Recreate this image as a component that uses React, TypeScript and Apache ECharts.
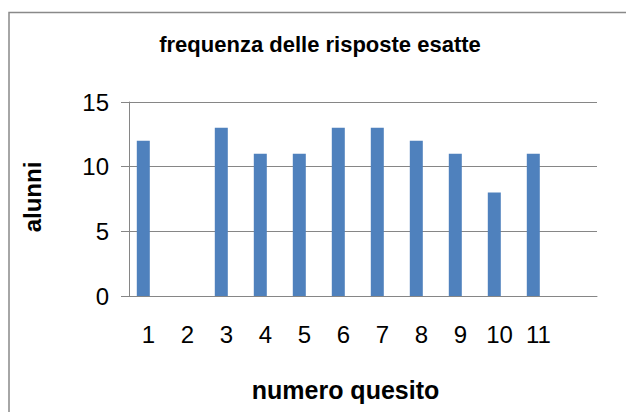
import React, { useEffect, useRef } from "react";
import * as echarts from "echarts";

const categories = ["1", "2", "3", "4", "5", "6", "7", "8", "9", "10", "11", ""];
const frequenza = [12, 0, 13, 11, 11, 13, 13, 12, 11, 8, 11, null];
const vuota = [null, null, null, null, null, null, null, null, null, null, null, null];
const yTicks = { min: 0, max: 15, interval: 5 };

const titolo = "frequenza delle risposte esatte";
const titoloY = "alunni";
const titoloX = "numero quesito";

const FONT = "'Liberation Sans', Arial, sans-serif";
const GRAY = "#868686";

export default function App() {
  const ref = useRef<HTMLDivElement>(null);
  useEffect(() => {
    if (!ref.current) return;
    const chart = echarts.init(ref.current, undefined, { renderer: "svg" });
    chart.setOption({
      animation: false,
      backgroundColor: "#ffffff",
      grid: { left: 129, right: 29, top: 102, bottom: 116, containLabel: false },
      xAxis: {
        type: "category",
        data: categories,
        boundaryGap: true,
        axisLine: { show: true, lineStyle: { color: GRAY, width: 1 } },
        axisTick: { show: false },
        axisLabel: { color: "#000", fontSize: 24, fontFamily: FONT, margin: 26, interval: 0 },
        splitLine: { show: false },
      },
      yAxis: {
        type: "value",
        min: yTicks.min,
        max: yTicks.max,
        interval: yTicks.interval,
        axisLine: { show: true, lineStyle: { color: GRAY, width: 1 } },
        axisTick: { show: true, length: 8, inside: false, lineStyle: { color: GRAY } },
        axisLabel: { color: "#000", fontSize: 24, fontFamily: FONT, margin: 20 },
        splitLine: { show: true, lineStyle: { color: GRAY, width: 1 } },
      },
      series: [
        {
          type: "bar",
          data: frequenza,
          barWidth: 13,
          barGap: "-20%",
          itemStyle: { color: "#4F81BD" },
        },
        {
          type: "bar",
          data: vuota,
          barWidth: 13,
          itemStyle: { color: "#C0504D" },
        },
      ],
      graphic: [
        {
          type: "rect",
          shape: { x: 9, y: 12.5, width: 700, height: 500 },
          style: { fill: "none", stroke: "#898989", lineWidth: 1.5 },
          silent: true,
        },
        {
          type: "text",
          x: 320,
          y: 44,
          style: {
            text: titolo,
            fill: "#000",
            font: `bold 22px ${FONT}`,
            textAlign: "center",
            textVerticalAlign: "middle",
          },
        },
        {
          type: "text",
          x: 32.7,
          y: 197,
          rotation: Math.PI / 2,
          style: {
            text: titoloY,
            fill: "#000",
            font: `bold 24px ${FONT}`,
            textAlign: "center",
            textVerticalAlign: "middle",
          },
        },
        {
          type: "text",
          x: 345.5,
          y: 389.5,
          style: {
            text: titoloX,
            fill: "#000",
            font: `bold 25px ${FONT}`,
            textAlign: "center",
            textVerticalAlign: "middle",
          },
        },
      ],
    });
    return () => chart.dispose();
  }, []);
  return (
    <div
      ref={ref}
      style={{ position: "fixed", left: 0, top: 0, width: 626, height: 412 }}
    />
  );
}
